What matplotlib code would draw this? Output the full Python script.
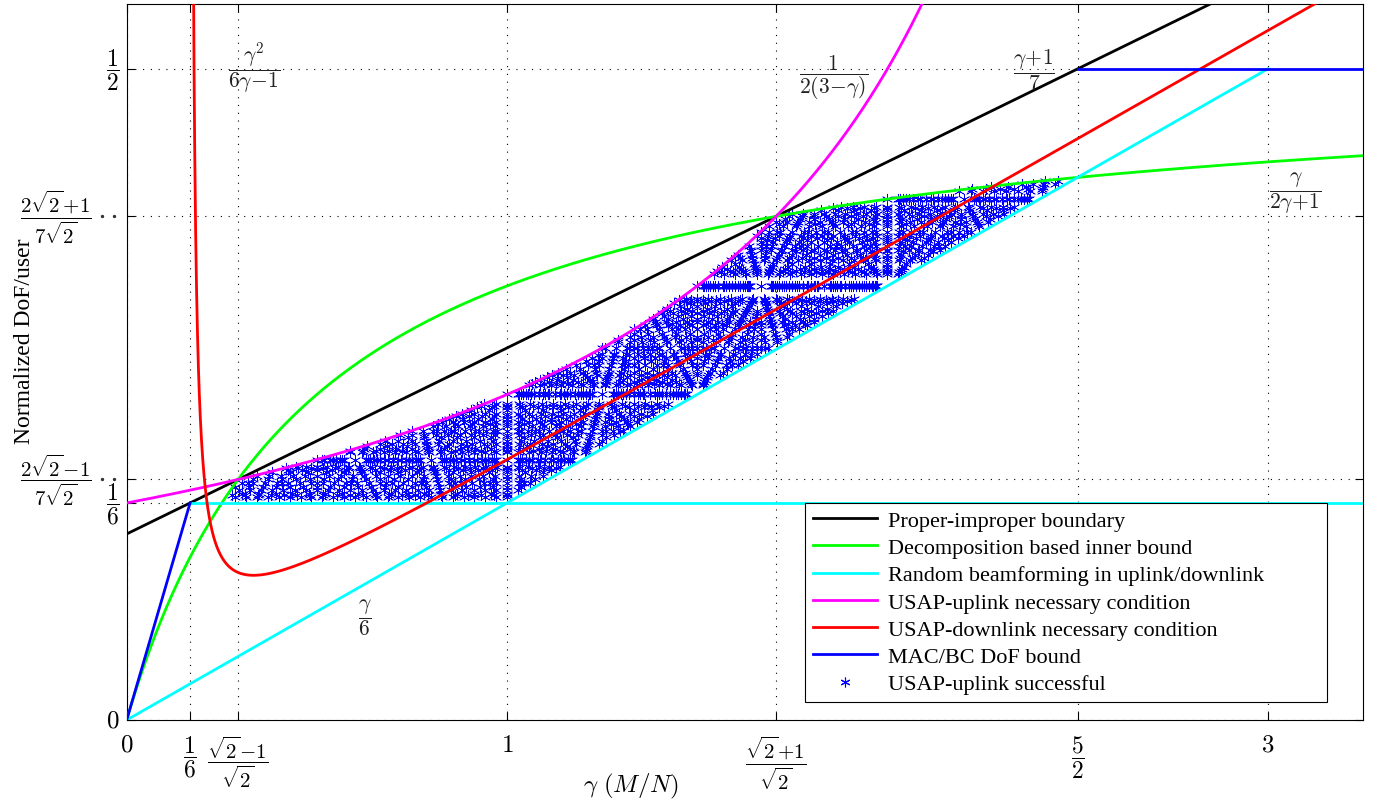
import matplotlib

matplotlib.use("Agg")
import matplotlib.pyplot as plt
import matplotlib.transforms as mtransforms
import numpy as np
from matplotlib.lines import Line2D

plt.rcParams["font.family"] = ["Liberation Serif", "DejaVu Serif"]
plt.rcParams["mathtext.fontset"] = "cm"

SQ2 = np.sqrt(2)

# axis extent
X_MAX = 3.25
Y_MAX = 0.55

# ticks
x_ticks = [0, 1 / 6, (SQ2 - 1) / SQ2, 1, (SQ2 + 1) / SQ2, 5 / 2, 3]
x_tick_labels = [
    r"$0$",
    r"$\dfrac{1}{6}$",
    r"$\dfrac{\sqrt{2}\!-\!1}{\sqrt{2}}$",
    r"$1$",
    r"$\dfrac{\sqrt{2}\!+\!1}{\sqrt{2}}$",
    r"$\dfrac{5}{2}$",
    r"$3$",
]
y_ticks = [0, 1 / 6, (2 * SQ2 - 1) / (7 * SQ2), (2 * SQ2 + 1) / (7 * SQ2), 1 / 2]
y_tick_labels = [
    r"$0$",
    r"$\dfrac{1}{6}$",
    r"$\dfrac{2\sqrt{2}\!-\!1}{7\sqrt{2}}$",
    r"$\dfrac{2\sqrt{2}\!+\!1}{7\sqrt{2}}$",
    r"$\dfrac{1}{2}$",
]
# the two long y labels sit further out, with a pair of dots before the axis
dotted_y_ticks = [2, 3]

# piecewise-linear bounds (breakpoints)
mac_bc_low_gamma = [0, 1 / 6]
mac_bc_low_dof = [0, 1 / 6]
mac_bc_high_gamma = [5 / 2, X_MAX]
mac_bc_high_dof = [1 / 2, 1 / 2]
random_bf_diag_gamma = [0, 3]
random_bf_diag_dof = [0, 1 / 2]
random_bf_flat_gamma = [1 / 6, X_MAX]
random_bf_flat_dof = [1 / 6, 1 / 6]

# largest N in the simulated (M, N, d) grid
N_MAX = 36

# curve annotations: (text, gamma, dof)
annotations = [
    (r"$\dfrac{\gamma^2}{6\gamma\!-\!1}$", 0.336, 0.501),
    (r"$\dfrac{1}{2(3\!-\!\gamma)}$", 1.858, 0.494),
    (r"$\dfrac{\gamma\!+\!1}{7}$", 2.386, 0.500),
    (r"$\dfrac{\gamma}{2\gamma\!+\!1}$", 3.073, 0.4055),
    (r"$\dfrac{\gamma}{6}$", 0.625, 0.079),
]

legend_labels = [
    "Proper-improper boundary",
    "Decomposition based inner bound",
    "Random beamforming in uplink/downlink",
    "USAP-uplink necessary condition",
    "USAP-downlink necessary condition",
    "MAC/BC DoF bound",
    "USAP-uplink successful",
]

BLACK = "#000000"
GREEN = "#00ff00"
CYAN = "#00ffff"
MAGENTA = "#ff00ff"
RED = "#ff0000"
BLUE = "#0000ff"
LW = 2.0
STAR = (6, 2, 0)


def uplink_bound(g):
    return 1.0 / (2.0 * (3.0 - g))


def inner_bound(g):
    return g / (2.0 * g + 1.0)


def usap_points(n_max):
    pts = set()
    for n in range(1, n_max + 1):
        for m in range(1, int(2.5 * n) + 1):
            g = m / n
            lower = max(1 / 6, g / 6)
            upper = min(uplink_bound(g), inner_bound(g))
            for d in range(1, n + 1):
                y = d / n
                if lower + 1e-9 < y < upper + 1e-9:
                    pts.add((round(g, 9), round(y, 9)))
    arr = np.array(sorted(pts))
    return arr[:, 0], arr[:, 1]


fig = plt.figure(figsize=(13.77, 8.03), dpi=100)
ax = fig.add_axes([0.0920, 0.1021, 0.8978, 0.8920])

gamma = np.linspace(0, X_MAX, 4000)
g_up = gamma[gamma < 2.2]
g_dn = gamma[gamma > 1 / 6 + 1e-3]
downlink = g_dn**2 / (6 * g_dn - 1)
keep = downlink < 1.0

sx, sy = usap_points(N_MAX)
ax.plot(
    sx, sy, linestyle="none", marker=STAR, markersize=8,
    markeredgewidth=0.45, color=BLUE, zorder=2,
)

ax.plot(gamma, (gamma + 1) / 7, color=BLACK, lw=LW, zorder=3)
ax.plot(gamma, inner_bound(gamma), color=GREEN, lw=LW, zorder=3)
ax.plot(random_bf_diag_gamma, random_bf_diag_dof, color=CYAN, lw=LW, zorder=3)
ax.plot(random_bf_flat_gamma, random_bf_flat_dof, color=CYAN, lw=LW, zorder=3)
ax.plot(g_up, uplink_bound(g_up), color=MAGENTA, lw=LW, zorder=3)
ax.plot(g_dn[keep], downlink[keep], color=RED, lw=LW, zorder=3)
ax.plot(mac_bc_low_gamma, mac_bc_low_dof, color=BLUE, lw=LW, zorder=3)
ax.plot(mac_bc_high_gamma, mac_bc_high_dof, color=BLUE, lw=LW, zorder=3)

for txt, gx, gy in annotations:
    ax.text(gx, gy, txt, ha="center", va="center", fontsize=15.5, color="#222222")

ax.set_xlim(0, X_MAX)
ax.set_ylim(0, Y_MAX)
ax.set_xticks(x_ticks)
ax.set_xticklabels(x_tick_labels, fontsize=15)
ax.set_yticks(y_ticks)
ax.set_yticklabels(y_tick_labels, fontsize=15)
ax.tick_params(direction="in", length=6, width=0.8, top=True, right=True)
ax.tick_params(axis="x", pad=10)
ax.tick_params(axis="y", pad=5)
for lab in ax.get_xticklabels() + ax.get_yticklabels():
    txt = lab.get_text()
    if "frac" not in txt:
        lab.set_fontsize(18)
    elif "sqrt" not in txt:
        lab.set_fontsize(17)
for lab in ax.get_yticklabels():
    lab.set_va("center")

y_major = ax.yaxis.get_major_ticks()
dot_trans = mtransforms.blended_transform_factory(ax.transAxes, ax.transData)
for i in dotted_y_ticks:
    y_major[i].set_pad(25)
    ax.plot([-0.0196, -0.0105], [y_ticks[i]] * 2, linestyle="none", marker="o",
            markersize=1.4, color="#333333", transform=dot_trans, clip_on=False)

ax.grid(True, color="k", linestyle=(0, (1, 6)), linewidth=0.8)
for sp in ax.spines.values():
    sp.set_linewidth(0.8)

ax.set_xlabel(r"$\gamma\ (M/N)$", fontsize=18)
ax.xaxis.set_label_coords(0.408, -0.071)
ax.set_ylabel("Normalized DoF/user", fontsize=17)
ax.yaxis.set_label_coords(-0.0744, 0.53)

handles = [
    Line2D([], [], color=BLACK, lw=LW),
    Line2D([], [], color=GREEN, lw=LW),
    Line2D([], [], color=CYAN, lw=LW),
    Line2D([], [], color=MAGENTA, lw=LW),
    Line2D([], [], color=RED, lw=LW),
    Line2D([], [], color=BLUE, lw=LW),
    Line2D([], [], linestyle="none", marker=STAR, markersize=7,
           markeredgewidth=0.8, color=BLUE),
]
leg = ax.legend(
    handles, legend_labels, loc="lower left",
    bbox_to_anchor=(0.5485, 0.025, 0.4225, 0.27), mode="expand",
    fontsize=16, fancybox=False, edgecolor="k", framealpha=1,
    handlelength=2.9, labelspacing=0.3, borderpad=0.35, handletextpad=0.5,
    borderaxespad=0,
)
leg.get_frame().set_linewidth(0.8)
leg.set_zorder(5)

fig.savefig("out.png", dpi=100)
